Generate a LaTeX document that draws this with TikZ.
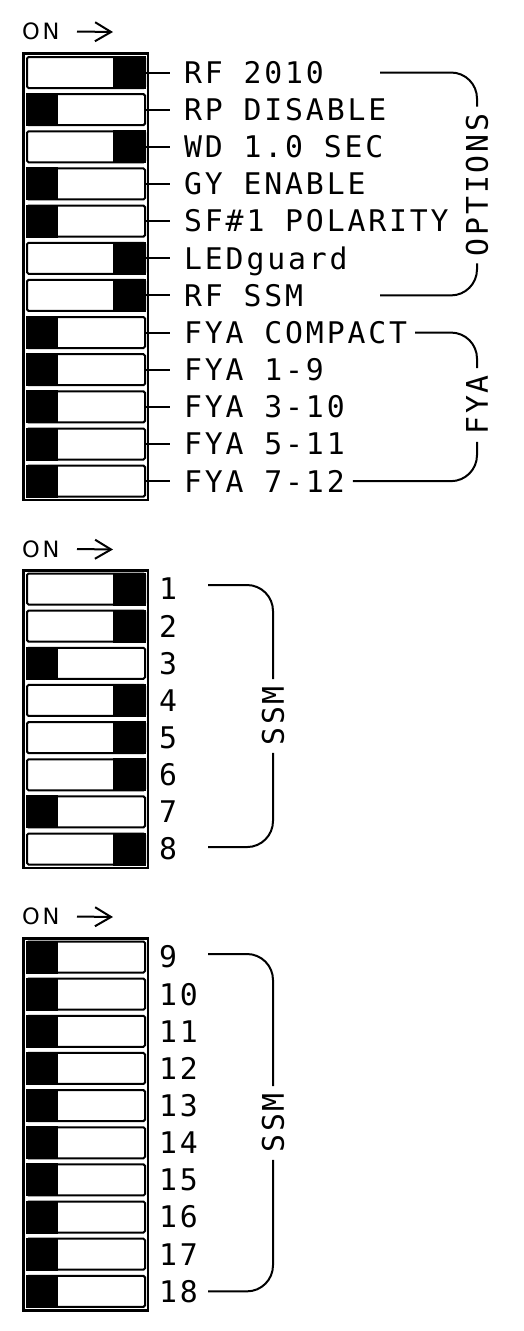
\documentclass[tikz,border=0pt]{standalone}
\usepackage{fontspec}
\usepackage{tikz}
\usetikzlibrary{arrows.meta,positioning,calc}
\newfontfamily\cadfont[LetterSpace=9.5]{DejaVu Sans Mono}
\newfontfamily\onfont[LetterSpace=12]{DejaVu Sans}
\newcommand{\labfont}{\cadfont\fontsize{29.8}{32}\selectfont}
\newcommand{\onsize}{\onfont\fontsize{22.5}{24}\selectfont}

\begin{document}
\begin{tikzpicture}[x=1pt, y=-1pt,
    sw/.style={draw, line width=2pt, rounded corners=1.5pt, fill=white,
        minimum width=118pt, minimum height=31pt, inner sep=0pt},
    frm/.style={line width=2.5pt},
    lbl/.style={font=\labfont, inner sep=0pt, text height=21.7pt, text depth=0pt},
    vlbl/.style={font=\labfont, rotate=90, inner xsep=7pt, inner ysep=0pt,
        text height=21.7pt, text depth=0pt},
    onlbl/.style={font=\onsize, inner sep=0pt, anchor=west},
    onarr/.style={line width=2pt, -{Straight Barb[length=16pt, width=19pt]}},
    tick/.style={line width=2pt},
    brk/.style={line width=2pt, rounded corners=26pt}]

    \useasboundingbox (0,0) rectangle (524,1331);

    % Switch 1: options and FYA
    \node[onlbl] (onA) at (22,31.5) {ON};
    \coordinate (onAtip) at (113,32);
    \draw[onarr] (onA.east -| 77,0) -- (onAtip);
    \draw[frm] (23.25,53.25) rectangle (147.75,499.8);
    \foreach \lab/\st [count=\i] in {RF 2010/r, RP DISABLE/l, WD 1.0 SEC/r,
        GY ENABLE/l, SF\#1 POLARITY/l, LEDguard/r, RF SSM/r, FYA COMPACT/l,
        FYA 1-9/l, FYA 3-10/l, FYA 5-11/l, FYA 7-12/l}{
        \node[sw] (a\i) at (86,{72.5+37.15*(\i-1)}) {};
        \if\st r
            \fill ([xshift=-33pt]a\i.north east) rectangle (a\i.south east);
        \else
            \fill (a\i.north west) rectangle ([xshift=32pt]a\i.south west);
        \fi
        \node[lbl, right=38pt of a\i] (la\i) {\lab};
        \draw[tick] (a\i.east) -- ([xshift=-14pt]la\i.west);
    }
    \node[vlbl] (opt) at (477,185) {OPTIONS};
    \coordinate (optS) at (380,0);
    \draw[brk] (la1.east -| optS) -- (la1.east -| opt.east) -- (opt.east);
    \draw[brk] (opt.west) -- (la7.east -| opt.west) -- (la7.east -| optS);
    \node[vlbl] (fya) at (477,405) {FYA};
    \draw[brk] ([xshift=8pt]la8.east) -- (la8.east -| fya.east) -- (fya.east);
    \draw[brk] (fya.west) -- (la12.east -| fya.west) -- ([xshift=8pt]la12.east);

    % Switch 2: SSM 1-8
    \node[onlbl] (onB) at (22,549) {ON};
    \coordinate (onBtip) at (113,549.5);
    \draw[onarr] (onB.east -| 77,0) -- (onBtip);
    \draw[frm] (23.25,570.25) rectangle (147.75,868.2);
    \foreach \st [count=\i] in {r,r,l,r,r,r,l,r}{
        \node[sw] (b\i) at (86,{589+37.15*(\i-1)}) {};
        \if\st r
            \fill ([xshift=-33pt]b\i.north east) rectangle (b\i.south east);
        \else
            \fill (b\i.north west) rectangle ([xshift=32pt]b\i.south west);
        \fi
        \node[lbl, right=13pt of b\i] (lb\i) {\i};
    }
    \node[vlbl] (ssmB) at (273,716) {SSM};
    \coordinate (ssmBS) at (208,0);
    \draw[brk] ([yshift=4pt]lb1.east -| ssmBS) -- ([yshift=4pt]lb1.east -| ssmB.east) -- (ssmB.east);
    \draw[brk] (ssmB.west) -- ([yshift=2pt]lb8.east -| ssmB.west) -- ([yshift=2pt]lb8.east -| ssmBS);

    % Switch 3: SSM 9-18
    \node[onlbl] (onC) at (22,916.5) {ON};
    \coordinate (onCtip) at (113,917);
    \draw[onarr] (onC.east -| 77,0) -- (onCtip);
    \draw[frm] (23.25,938.25) rectangle (147.75,1310.5);
    \foreach \n [count=\i] in {9,...,18}{
        \node[sw] (c\i) at (86,{957+37.15*(\i-1)}) {};
        \fill (c\i.north west) rectangle ([xshift=32pt]c\i.south west);
        \node[lbl, right=13pt of c\i] (lc\i) {\n};
    }
    \node[vlbl] (ssmC) at (273,1123) {SSM};
    \coordinate (ssmCS) at (208,0);
    \draw[brk] ([yshift=3pt]lc1.east -| ssmCS) -- ([yshift=3pt]lc1.east -| ssmC.east) -- (ssmC.east);
    \draw[brk] (ssmC.west) -- (lc10.east -| ssmC.west) -- (lc10.east -| ssmCS);
\end{tikzpicture}
\end{document}
